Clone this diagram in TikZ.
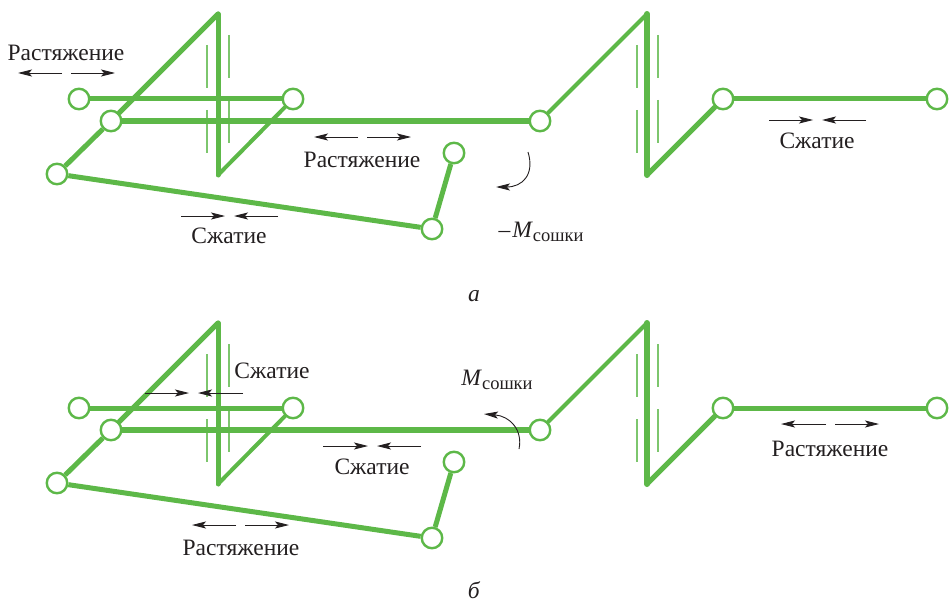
\documentclass[tikz,border=0pt]{standalone}
\usepackage{fontspec}
\setmainfont{Liberation Serif}
\usetikzlibrary{arrows.meta}
\definecolor{gr}{HTML}{5DB848}
\definecolor{ink}{HTML}{231F20}
\tikzset{
  joint/.style={circle,draw=gr,line width=2.4pt,fill=white,minimum size=20.5pt,inner sep=0pt},
  thick bar/.style={draw=gr,line width=6pt},
  mid bar/.style={draw=gr,line width=5pt},
  thin bar/.style={draw=gr,line width=4pt},
  guide/.style={draw=gr!80,line width=1.6pt},
  force/.style={draw=ink,line width=.9pt,-{Stealth[length=14pt,width=7pt,inset=3pt]}},
  lbl/.style={text=ink,font=\fontsize{23.5}{25}\selectfont,inner sep=0pt},
  lblbase/.style={lbl,anchor=base},
}
\newcommand{\frameset}[2]{%
  \begin{scope}[yshift=-#2pt]
    \coordinate (#1ax) at (218,14);
    \coordinate (#1bx) at (218,175);
    \coordinate (#1ay) at (647,14);
    \coordinate (#1by) at (647,175);
    \coordinate (#1g1s) at (207,45); \coordinate (#1g1e) at (207,88);
    \coordinate (#1g2s) at (207,110); \coordinate (#1g2e) at (207,153);
    \coordinate (#1g3s) at (229,35); \coordinate (#1g3e) at (229,78);
    \coordinate (#1g4s) at (229,100); \coordinate (#1g4e) at (229,143);
    \coordinate (#1h1s) at (637,45); \coordinate (#1h1e) at (637,88);
    \coordinate (#1h2s) at (637,110); \coordinate (#1h2e) at (637,153);
    \coordinate (#1h3s) at (658,35); \coordinate (#1h3e) at (658,78);
    \coordinate (#1h4s) at (658,100); \coordinate (#1h4e) at (658,143);
    \foreach \n in {g1,g2,g3,g4,h1,h2,h3,h4} \draw[guide] (#1\n s) -- (#1\n e);
    \node[joint] (#1A) at (79,99) {};
    \node[joint] (#1B) at (293,99) {};
    \node[joint] (#1C) at (111,121) {};
    \node[joint] (#1D) at (57,174) {};
    \node[joint] (#1E) at (432,229) {};
    \node[joint] (#1F) at (454,153) {};
    \node[joint] (#1G) at (540,121) {};
    \node[joint] (#1H) at (723,99) {};
    \node[joint] (#1I) at (937,99) {};
    \draw[mid bar] (#1D) -- (#1C);
    \draw[mid bar,line cap=round] (#1C) -- (#1ax);
    \draw[mid bar,line cap=round] (#1ax) -- (#1bx);
    \draw[thin bar,line cap=round] (#1bx) -- (#1B);
    \draw[mid bar] (#1A) -- (#1B);
    \draw[mid bar,line width=5.5pt] (#1C) -- (#1G);
    \draw[mid bar] (#1D) -- (#1E);
    \draw[mid bar] (#1E) -- (#1F);
    \draw[thin bar,line cap=round] (#1G) -- (#1ay);
    \draw[thick bar,line cap=round] (#1ay) -- (#1by);
    \draw[mid bar,line cap=round] (#1by) -- (#1H);
    \draw[mid bar] (#1H) -- (#1I);
  \end{scope}}
\begin{document}
\begin{tikzpicture}[x=1pt,y=-1pt]
\useasboundingbox (0,0) rectangle (949,607);
\frameset{t}{0}
\frameset{b}{309}
% top labels
\node[lbl] (l1) at (66,53) {Растяжение};
\coordinate (l1a) at (62,73); \coordinate (l1b) at (18,73);
\coordinate (l1c) at (71,73); \coordinate (l1d) at (115,73);
\draw[force] (l1a) -- (l1b); \draw[force] (l1c) -- (l1d);
\node[lbl] (l2) at (229,236) {Сжатие};
\coordinate (l2a) at (181,216); \coordinate (l2b) at (225,216);
\coordinate (l2c) at (278,216); \coordinate (l2d) at (234,216);
\draw[force] (l2a) -- (l2b); \draw[force] (l2c) -- (l2d);
\node[lbl] (l3) at (362,160) {Растяжение};
\coordinate (l3a) at (358,137); \coordinate (l3b) at (314,137);
\coordinate (l3c) at (367,137); \coordinate (l3d) at (411,137);
\draw[force] (l3a) -- (l3b); \draw[force] (l3c) -- (l3d);
\node[lbl] (l4) at (817,141) {Сжатие};
\coordinate (l4a) at (769,120); \coordinate (l4b) at (813,120);
\coordinate (l4c) at (866,120); \coordinate (l4d) at (822,120);
\draw[force] (l4a) -- (l4b); \draw[force] (l4c) -- (l4d);
\coordinate (m1a) at (528,152); \coordinate (m1b) at (496,187);
\draw[force] (m1a) .. controls (535,175) and (522,187) .. (m1b);
\node[lblbase] (m1) at (541,237) {–\hspace{2pt}\textit{M}\raisebox{-4pt}{\fontsize{18.5}{18}\selectfont сошки}};
\node[lbl] (ca) at (474,296) {\textit{а}};
% bottom labels
\node[lbl] (l5) at (272,371) {Сжатие};
\coordinate (l5a) at (145,393); \coordinate (l5b) at (189,393);
\coordinate (l5c) at (243,393); \coordinate (l5d) at (198,393);
\draw[force] (l5a) -- (l5b); \draw[force] (l5c) -- (l5d);
\node[lbl] (l6) at (372,467) {Сжатие};
\coordinate (l6a) at (323,446); \coordinate (l6b) at (368,446);
\coordinate (l6c) at (421,446); \coordinate (l6d) at (377,446);
\draw[force] (l6a) -- (l6b); \draw[force] (l6c) -- (l6d);
\node[lbl] (l7) at (241,548) {Растяжение};
\coordinate (l7a) at (236,525); \coordinate (l7b) at (192,525);
\coordinate (l7c) at (245,525); \coordinate (l7d) at (289,525);
\draw[force] (l7a) -- (l7b); \draw[force] (l7c) -- (l7d);
\node[lbl] (l8) at (830,449) {Растяжение};
\coordinate (l8a) at (826,424); \coordinate (l8b) at (781,424);
\coordinate (l8c) at (835,424); \coordinate (l8d) at (879,424);
\draw[force] (l8a) -- (l8b); \draw[force] (l8c) -- (l8d);
\coordinate (m2a) at (519,449); \coordinate (m2b) at (484,414);
\draw[force] (m2a) .. controls (523,430) and (510,416) .. (m2b);
\node[lblbase] (m2) at (497,385) {\textit{M}\raisebox{-4pt}{\fontsize{18.5}{18}\selectfont сошки}};
\node[lbl] (cb) at (474,590) {\textit{б}};
\end{tikzpicture}
\end{document}
